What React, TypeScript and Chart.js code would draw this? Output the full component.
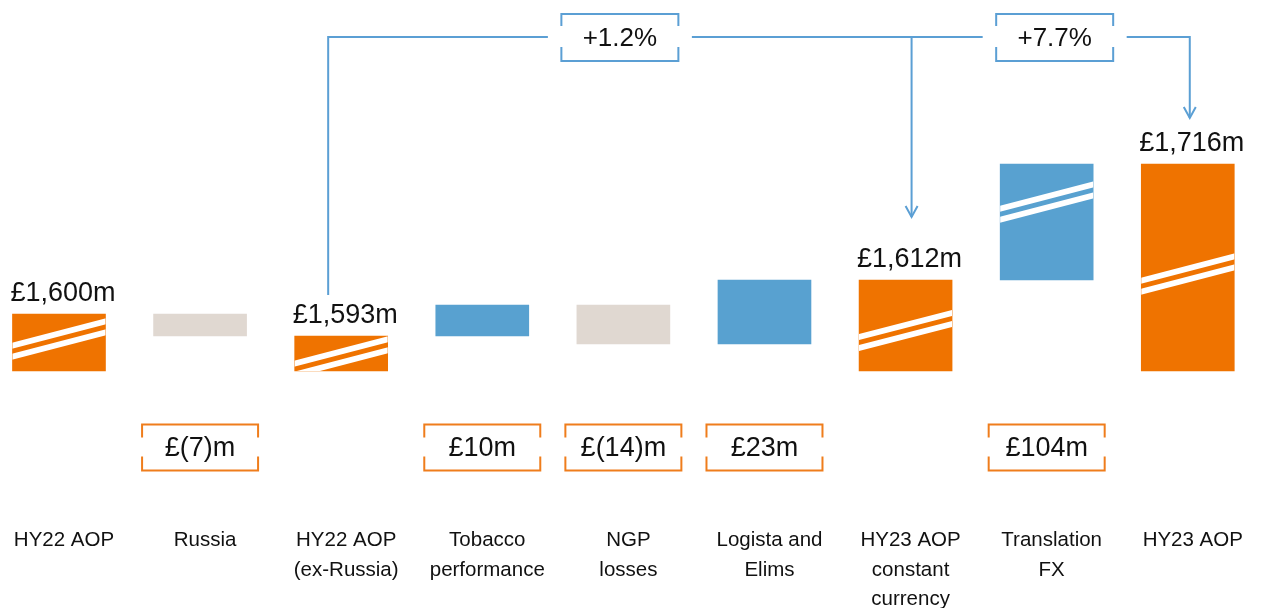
import React, { useEffect, useRef } from 'react';
import { Chart, registerables } from 'chart.js';

Chart.register(...registerables);

// ---- data ----
const categories: string[][] = [
  ['HY22 AOP'],
  ['Russia'],
  ['HY22 AOP', '(ex-Russia)'],
  ['Tobacco', 'performance'],
  ['NGP', 'losses'],
  ['Logista and', 'Elims'],
  ['HY23 AOP', 'constant', 'currency'],
  ['Translation', 'FX'],
  ['HY23 AOP'],
];
const kinds = ['total', 'down', 'total', 'up', 'down', 'up', 'total', 'up', 'total'];
// bar ranges as drawn on the reference's schematic (broken) axis
const barLow = [0, 35, 0, 35, 27, 27, 0, 91, 0];
const barHigh = [57, 57, 35, 66, 66, 91, 91, 207, 207];
// where the axis-break stripes sit on each bar (schematic units)
const breakAt: (number | null)[] = [32, null, 14, null, null, null, 40.5, 169, 97];
const totalLabels = ['£1,600m', '', '£1,593m', '', '', '', '£1,612m', '', '£1,716m'];
const changeLabels = ['', '£(7)m', '', '£10m', '£(14)m', '£23m', '', '£104m', ''];
const growthLabels = ['+1.2%', '+7.7%'];
const growthFrom = [2, 6];
const growthTo = [6, 8];
// schematic levels for the growth connector
const connectorLevel = 334;
const connectorStart = 76;
const arrowTips = [154, 253];

const COLORS: Record<string, string> = { total: '#EF7300', up: '#58A1D0', down: '#E0D8D1' };
const LINE_BLUE = '#5B9FD4';
const BOX_ORANGE = '#EF7D1C';
const TEXT = '#111111';
const FONT = "'Liberation Sans', Arial, Helvetica, sans-serif";

function bracketBox(ctx: CanvasRenderingContext2D, cx: number, cy: number, w: number, h: number, top: number, bottom: number, color: string) {
  const l = cx - w / 2, r = cx + w / 2, t = cy - h / 2, b = cy + h / 2;
  ctx.save();
  ctx.strokeStyle = color;
  ctx.lineWidth = 2;
  ctx.beginPath();
  ctx.moveTo(l, t + top); ctx.lineTo(l, t); ctx.lineTo(r, t); ctx.lineTo(r, t + top);
  ctx.moveTo(l, b - bottom); ctx.lineTo(l, b); ctx.lineTo(r, b); ctx.lineTo(r, b - bottom);
  ctx.stroke();
  ctx.restore();
}

function arrowDown(ctx: CanvasRenderingContext2D, x: number, y: number) {
  ctx.beginPath();
  ctx.moveTo(x - 6, y - 11);
  ctx.lineTo(x, y);
  ctx.lineTo(x + 6, y - 11);
  ctx.stroke();
}

const overlay = {
  id: 'overlay',
  afterDatasetsDraw(chart: any) {
    const ctx: CanvasRenderingContext2D = chart.ctx;
    const meta = chart.getDatasetMeta(0);
    const ys = chart.scales.y;
    const xs = chart.scales.x;
    const base0 = ys.getPixelForValue(0);

    // axis-break stripes
    meta.data.forEach((bar: any, i: number) => {
      const b = breakAt[i];
      if (b == null) return;
      const { x, y, base, width } = bar.getProps(['x', 'y', 'base', 'width'], true);
      const top = Math.min(y, base), bottom = Math.max(y, base);
      ctx.save();
      ctx.beginPath();
      ctx.rect(x - width / 2, top, width, bottom - top);
      ctx.clip();
      const yc = ys.getPixelForValue(b);
      const s = 0.26;
      const half = width / 2 + 2;
      ctx.fillStyle = '#ffffff';
      [[-8.5, -2.5], [2.5, 8.5]].forEach(([a, c]) => {
        ctx.beginPath();
        ctx.moveTo(x - half, yc + a + s * half);
        ctx.lineTo(x + half, yc + a - s * half);
        ctx.lineTo(x + half, yc + c - s * half);
        ctx.lineTo(x - half, yc + c + s * half);
        ctx.closePath();
        ctx.fill();
      });
      ctx.restore();
    });

    ctx.save();
    ctx.fillStyle = TEXT;
    ctx.textAlign = 'center';
    ctx.textBaseline = 'alphabetic';

    // totals above bars
    ctx.font = `27px ${FONT}`;
    meta.data.forEach((bar: any, i: number) => {
      if (!totalLabels[i]) return;
      const { x, y } = bar.getProps(['x', 'y'], true);
      ctx.fillText(totalLabels[i], x + 4, y - 13);
    });

    // change boxes below
    meta.data.forEach((bar: any, i: number) => {
      if (!changeLabels[i]) return;
      const { x } = bar.getProps(['x'], true);
      const cy = base0 + 76.5;
      bracketBox(ctx, x, cy, 116, 46, 13, 14, BOX_ORANGE);
      ctx.fillStyle = TEXT;
      ctx.font = `27px ${FONT}`;
      ctx.textBaseline = 'middle';
      ctx.fillText(changeLabels[i], x, cy + 1);
    });

    // category labels
    ctx.textBaseline = 'alphabetic';
    ctx.font = `20.5px ${FONT}`;
    categories.forEach((lines, i) => {
      const x = xs.getPixelForValue(i) + 5;
      lines.forEach((t, k) => ctx.fillText(t, x, base0 + 175 + k * 29.5));
    });

    // growth connector
    ctx.strokeStyle = LINE_BLUE;
    ctx.lineWidth = 2;
    const levelY = ys.getPixelForValue(connectorLevel);
    const startX = xs.getPixelForValue(growthFrom[0]) - 13;
    const tipXs = growthTo.map((g, k) => xs.getPixelForValue(g) + (k === 0 ? 6 : 2));
    const boxCenters = [(startX + tipXs[0]) / 2, (tipXs[0] + tipXs[1]) / 2 + 4];
    const gapHalf = 72;
    ctx.beginPath();
    ctx.moveTo(startX, ys.getPixelForValue(connectorStart));
    ctx.lineTo(startX, levelY);
    ctx.lineTo(boxCenters[0] - gapHalf, levelY);
    ctx.moveTo(boxCenters[0] + gapHalf, levelY);
    ctx.lineTo(boxCenters[1] - gapHalf, levelY);
    ctx.moveTo(boxCenters[1] + gapHalf, levelY);
    ctx.lineTo(tipXs[1], levelY);
    ctx.lineTo(tipXs[1], ys.getPixelForValue(arrowTips[1]));
    ctx.moveTo(tipXs[0], levelY);
    ctx.lineTo(tipXs[0], ys.getPixelForValue(arrowTips[0]));
    ctx.stroke();
    arrowDown(ctx, tipXs[0], ys.getPixelForValue(arrowTips[0]));
    arrowDown(ctx, tipXs[1], ys.getPixelForValue(arrowTips[1]));

    growthLabels.forEach((t, k) => {
      bracketBox(ctx, boxCenters[k], levelY + 0.5, 117, 47, 12, 14, LINE_BLUE);
      ctx.fillStyle = TEXT;
      ctx.font = `26px ${FONT}`;
      ctx.textBaseline = 'middle';
      ctx.fillText(t, boxCenters[k], levelY + 1.5);
    });
    ctx.restore();
  },
};

export default function App() {
  const ref = useRef<HTMLCanvasElement | null>(null);
  useEffect(() => {
    if (!ref.current) return;
    const chart = new Chart(ref.current, {
      type: 'bar',
      data: {
        datasets: [
          {
            data: categories.map((_, i) => ({ x: i, y: [barLow[i], barHigh[i]] })) as any,
            backgroundColor: kinds.map((k) => COLORS[k]),
            borderWidth: 0,
            barThickness: 93,
          },
        ],
      },
      options: {
        animation: false,
        responsive: false,
        layout: { padding: 0 },
        plugins: { legend: { display: false }, tooltip: { enabled: false } },
        scales: {
          x: { type: 'linear', min: -0.418, max: 8.604, offset: false, display: false },
          y: { type: 'linear', min: -237, max: 371, display: false },
        },
      },
      plugins: [overlay],
    });
    return () => chart.destroy();
  }, []);
  return (
    <div style={{ position: 'fixed', left: 0, top: 0, width: 1273, height: 608, background: '#ffffff' }}>
      <canvas ref={ref} width={1273} height={608} style={{ display: 'block' }} />
    </div>
  );
}
